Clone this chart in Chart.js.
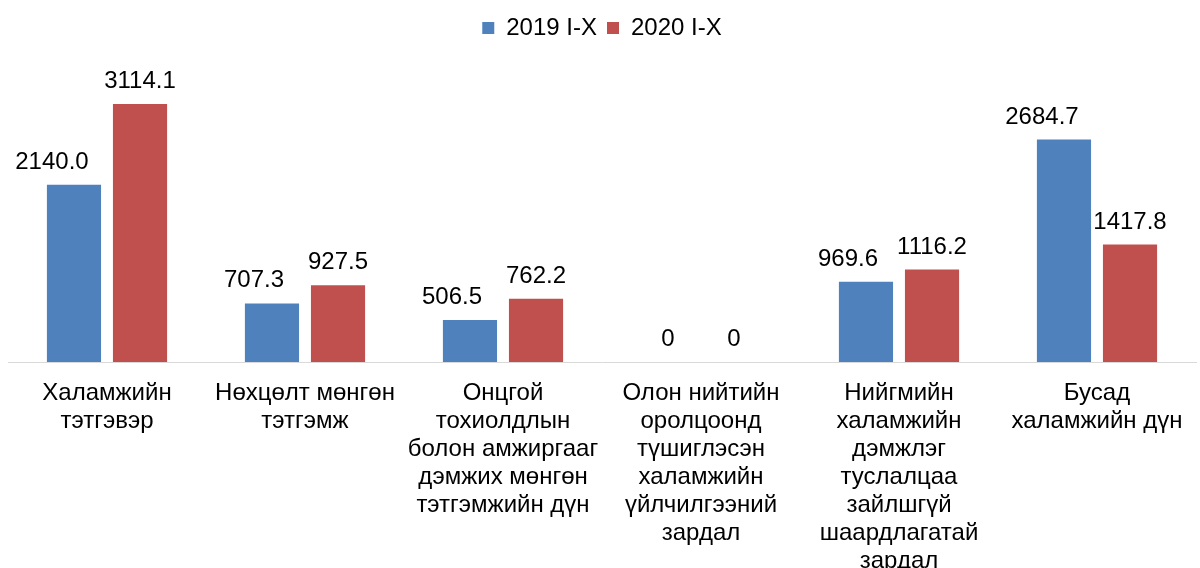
<!DOCTYPE html>
<html>
<head>
<meta charset="utf-8">
<script src="https://cdn.jsdelivr.net/npm/chart.js@4/dist/chart.umd.min.js"></script>
<style>
  html, body { margin: 0; padding: 0; background: #ffffff; }
  #wrap { width: 1200px; height: 568px; position: relative; }
</style>
</head>
<body>
<div id="wrap"><canvas id="c" width="1200" height="568"></canvas></div>
<script>
const categories = [
  ["Халамжийн", "тэтгэвэр"],
  ["Нөхцөлт мөнгөн", "тэтгэмж"],
  ["Онцгой", "тохиолдлын", "болон амжиргааг", "дэмжих мөнгөн", "тэтгэмжийн дүн"],
  ["Олон нийтийн", "оролцоонд", "түшиглэсэн", "халамжийн", "үйлчилгээний", "зардал"],
  ["Нийгмийн", "халамжийн", "дэмжлэг", "туслалцаа", "зайлшгүй", "шаардлагатай", "зардал"],
  ["Бусад", "халамжийн дүн"]
];
const seriesNames = ["2019 I-X", "2020 I-X"];
const values2019 = [2140.0, 707.3, 506.5, 0, 969.6, 2684.7];
const values2020 = [3114.1, 927.5, 762.2, 0, 1116.2, 1417.8];

const FONT = "'Liberation Sans', Arial, sans-serif";

const labelPlugin = {
  id: 'barLabels',
  afterDatasetsDraw(chart) {
    const ctx = chart.ctx;
    ctx.save();
    ctx.font = '24px ' + FONT;
    ctx.fillStyle = '#000000';
    ctx.textAlign = 'center';
    ctx.textBaseline = 'alphabetic';
    chart.data.datasets.forEach((ds, di) => {
      const meta = chart.getDatasetMeta(di);
      meta.data.forEach((bar, i) => {
        const v = ds.data[i];
        const txt = v === 0 ? '0' : v.toFixed(1);
        let x = bar.x;
        if (di === 0 && v !== 0) x -= ctx.measureText(txt).width * 0.3;
        ctx.fillText(txt, x, bar.y - 16);
      });
    });
    ctx.restore();
  }
};

new Chart(document.getElementById('c'), {
  type: 'bar',
  data: {
    labels: categories,
    datasets: [
      { label: seriesNames[0], data: values2019, backgroundColor: '#4F81BD', borderWidth: 0 },
      { label: seriesNames[1], data: values2020, backgroundColor: '#C0504D', borderWidth: 0 }
    ]
  },
  options: {
    responsive: false,
    animation: false,
    devicePixelRatio: 1,
    categoryPercentage: 0.667,
    barPercentage: 0.82,
    layout: { padding: { top: 6, left: 8, right: 4, bottom: 0 } },
    plugins: {
      legend: {
        position: 'top',
        labels: {
          font: { family: FONT, size: 24 },
          color: '#000000',
          boxWidth: 12,
          boxHeight: 12,
          padding: 10
        }
      },
      tooltip: { enabled: false }
    },
    scales: {
      x: {
        grid: { display: false, drawTicks: false },
        border: { display: true, color: '#d9d9d9', width: 1 },
        ticks: {
          font: { family: FONT, size: 24, lineHeight: 1.17 },
          color: '#000000',
          padding: 17,
          maxRotation: 0,
          minRotation: 0,
          autoSkip: false
        },
        afterFit(scale) { scale.height = 206; }
      },
      y: {
        display: false,
        min: 0,
        max: 3766
      }
    }
  },
  plugins: [labelPlugin]
});
</script>
</body>
</html>
